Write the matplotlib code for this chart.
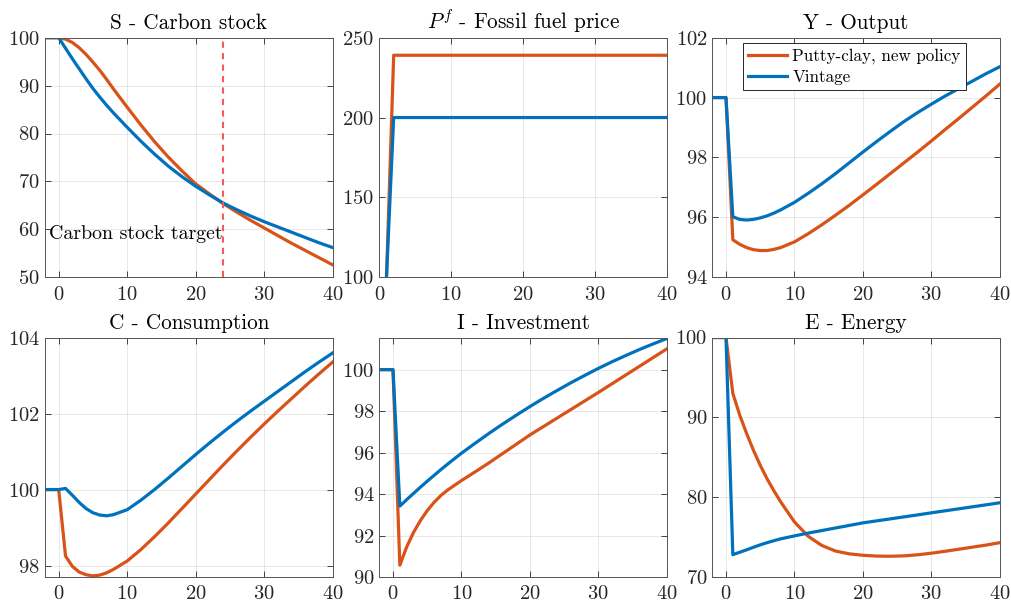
import numpy as np
import matplotlib
matplotlib.use('Agg')
import matplotlib.pyplot as plt

# Computer Modern look (like a LaTeX interpreter in MATLAB)
plt.rcParams['font.family'] = 'cmr10'
plt.rcParams['mathtext.fontset'] = 'cm'
plt.rcParams['axes.formatter.use_mathtext'] = True

# periods
t = [-2, -1, 0, 1, 2, 3, 4, 5, 6, 7, 8, 10, 12, 14, 16, 18, 20, 22, 24, 26, 28, 30, 32, 34, 36, 38, 40]

nan = np.nan

# S - carbon stock
S_clay = [100, 100, 100, 99.7, 99.0, 97.9, 96.5, 94.9, 93.2, 91.3, 89.3,
          85.5, 81.8, 78.3, 75.1, 72.2, 69.5, 67.4, 65.4, 63.6, 61.9, 60.3, 58.7, 57.1, 55.6, 54.1, 52.6]
S_vin = [100, 100, 100, 97.8, 95.6, 93.5, 91.4, 89.4, 87.6, 85.9, 84.3,
         81.3, 78.4, 75.7, 73.2, 71.0, 69.0, 67.2, 65.5, 64.1, 62.8, 61.6, 60.5, 59.4, 58.3, 57.2, 56.2]

# Pf - fossil fuel price
Pf_clay = [nan, nan, nan, 100, 239, 239, 239, 239, 239, 239, 239,
           239, 239, 239, 239, 239, 239, 239, 239, 239, 239, 239, 239, 239, 239, 239, 239]
Pf_vin = [nan, nan, nan, 100, 200, 200, 200, 200, 200, 200, 200,
          200, 200, 200, 200, 200, 200, 200, 200, 200, 200, 200, 200, 200, 200, 200, 200]

# Y - output
Y_clay = [100, 100, 100, 95.25, 95.1, 94.99, 94.92, 94.89, 94.89, 94.93, 94.99,
          95.18, 95.45, 95.75, 96.07, 96.4, 96.75, 97.1, 97.46, 97.82, 98.18, 98.55, 98.93, 99.3, 99.68, 100.06, 100.45]
Y_vin = [100, 100, 100, 96.02, 95.93, 95.91, 95.93, 95.98, 96.05, 96.14, 96.25,
         96.5, 96.8, 97.12, 97.46, 97.82, 98.18, 98.53, 98.87, 99.2, 99.5, 99.78, 100.05, 100.3, 100.55, 100.8, 101.03]

# C - consumption
C_clay = [100, 100, 100, 98.25, 97.98, 97.83, 97.76, 97.73, 97.75, 97.81, 97.9,
          98.12, 98.42, 98.76, 99.12, 99.5, 99.88, 100.26, 100.64, 101.01, 101.37, 101.72, 102.06, 102.39, 102.72, 103.04, 103.35]
C_vin = [100, 100, 100, 100.03, 99.85, 99.66, 99.5, 99.39, 99.33, 99.31, 99.34,
         99.47, 99.72, 100.0, 100.3, 100.61, 100.92, 101.22, 101.51, 101.79, 102.06, 102.32, 102.58, 102.84, 103.1, 103.35, 103.59]

# I - investment
I_clay = [100, 100, 100, 90.57, 91.45, 92.15, 92.72, 93.2, 93.6, 93.93, 94.2,
          94.65, 95.07, 95.5, 95.95, 96.4, 96.85, 97.26, 97.67, 98.08, 98.49, 98.9, 99.32, 99.74, 100.16, 100.58, 101.0]
I_vin = [100, 100, 100, 93.42, 93.73, 94.03, 94.33, 94.62, 94.9, 95.18, 95.45,
         95.97, 96.45, 96.92, 97.37, 97.8, 98.22, 98.62, 99.0, 99.37, 99.72, 100.06, 100.38, 100.68, 100.97, 101.24, 101.5]

# E - energy
E_clay = [100, 100, 100, 93.0, 90.3, 88.0, 85.9, 84.0, 82.3, 80.8, 79.4,
          76.9, 75.1, 73.95, 73.25, 72.9, 72.72, 72.62, 72.6, 72.65, 72.78, 72.98, 73.22, 73.48, 73.74, 74.0, 74.3]
E_vin = [100, 100, 100, 72.8, 73.1, 73.4, 73.72, 74.03, 74.3, 74.55, 74.78,
         75.15, 75.5, 75.82, 76.14, 76.46, 76.78, 77.03, 77.28, 77.53, 77.78, 78.04, 78.29, 78.54, 78.79, 79.04, 79.3]

labels = ['Putty-clay, new policy', 'Vintage']
orange = '#D95319'
blue = '#0072BD'
axcol = '#262626'

panels = [
    ('S - Carbon stock', S_clay, S_vin, (-2, 40), (50, 100), [50, 60, 70, 80, 90, 100]),
    ('$P^f$ - Fossil fuel price', Pf_clay, Pf_vin, (0, 40), (100, 250), [100, 150, 200, 250]),
    ('Y - Output', Y_clay, Y_vin, (-2, 40), (94, 102), [94, 96, 98, 100, 102]),
    ('C - Consumption', C_clay, C_vin, (-2, 40), (97.7, 104), [98, 100, 102, 104]),
    ('I - Investment', I_clay, I_vin, (-2, 40), (90, 101.55), [90, 92, 94, 96, 98, 100]),
    ('E - Energy', E_clay, E_vin, (-2, 40), (70, 100), [70, 80, 90, 100]),
]

lefts = [45, 379.3, 712.3]
tops = [37.7, 337.5]
W, H = 1011.0, 604.0
aw, ah = 287.5, 239.5

fig = plt.figure(figsize=(10.11, 6.04), dpi=100)

for k, (title, yc, yv, xl, yl, yt) in enumerate(panels):
    r, c = divmod(k, 3)
    ax = fig.add_axes([lefts[c] / W, 1 - (tops[r] + ah) / H, aw / W, ah / H])
    ax.plot(t, yc, color=orange, lw=2.3, label=labels[0])
    ax.plot(t, yv, color=blue, lw=2.3, label=labels[1])
    ax.set_xlim(xl)
    ax.set_ylim(yl)
    ax.set_xticks([0, 10, 20, 30, 40])
    ax.set_yticks(yt)
    ax.grid(True, color=axcol, alpha=0.12, lw=0.6)
    ax.tick_params(direction='in', top=True, right=True, length=4, width=0.6,
                   color=axcol, labelcolor=axcol, labelsize=14.8)
    ax.tick_params(axis='x', pad=6)
    ax.tick_params(axis='y', pad=3.5)
    for s in ax.spines.values():
        s.set_color('#555555')
        s.set_linewidth(0.7)
    ax.set_title(title, fontsize=15.3, pad=6)

    if k == 0:
        ax.axvline(24, color='#F25C5C', ls='--', lw=1.5, dashes=(3, 2.5))
        ax.text(24, 59, 'Carbon stock target', ha='right', va='center', fontsize=14.3)
    if k == 2:
        leg = ax.legend(loc='upper right', bbox_to_anchor=(0.882, 0.979), borderaxespad=0,
                        fontsize=12.25, frameon=True, fancybox=False, framealpha=1,
                        edgecolor=axcol, handlelength=2.3, handletextpad=0.28,
                        labelspacing=0.32, borderpad=0.32)
        leg.get_frame().set_linewidth(0.7)

plt.savefig('out.png', dpi=100)
